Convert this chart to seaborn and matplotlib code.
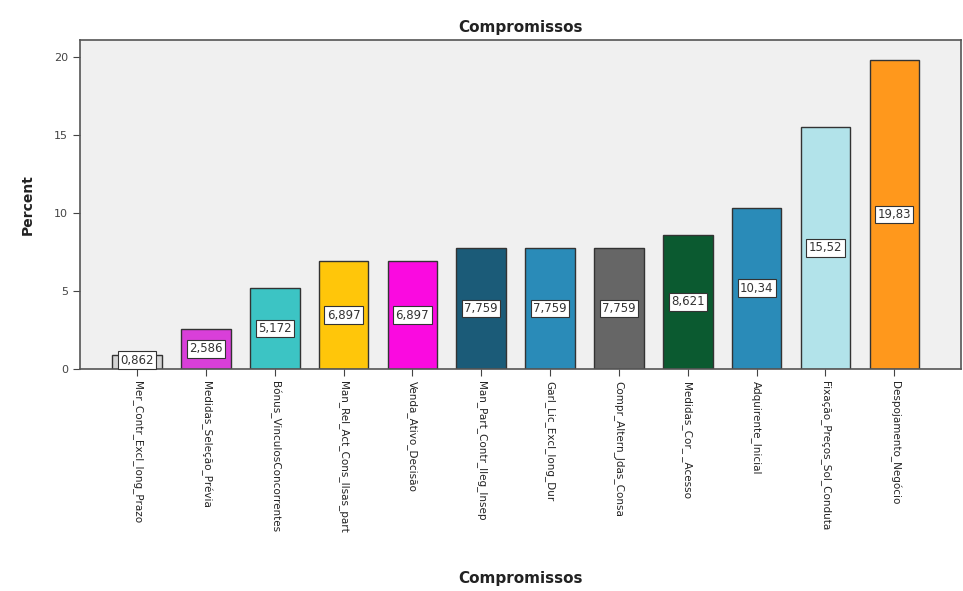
import matplotlib
matplotlib.use("Agg")
import matplotlib.pyplot as plt
import seaborn as sns
import pandas as pd

categories = [
    "Mer_Contr_Excl_long_Prazo",
    "Medidas_Seleção_Prévia",
    "Bónus_VinculosConcorrentes",
    "Man_Rel_Act_Cons_Ilsas_part",
    "Venda_Ativo_Decisão",
    "Man_Part_Contr_Ileg_Insep",
    "Garl_Lic_Excl_long_Dur",
    "Compr_Altern_Jdas_Consa",
    "Medidas_Cor_ _Acesso",
    "Adquirente_Inicial",
    "Fixação_Preços_Sol_Conduta",
    "Despojamento_Negócio",
]
percent = [0.862, 2.586, 5.172, 6.897, 6.897, 7.759, 7.759, 7.759, 8.621, 10.34, 15.52, 19.83]
value_labels = ["0,862", "2,586", "5,172", "6,897", "6,897", "7,759", "7,759", "7,759",
                "8,621", "10,34", "15,52", "19,83"]
colors = ["#d4d4d4", "#d93fd9", "#3cc4c4", "#ffc60a", "#fa0ae0", "#1b5b78",
          "#2a8bb8", "#666666", "#0b5a30", "#2a8bb8", "#b2e3ea", "#ff981c"]

df = pd.DataFrame({"Compromissos": categories, "Percent": percent})

fig = plt.figure(figsize=(9.63, 5.91), dpi=100)
ax = fig.add_axes([0.083, 0.376, 0.915, 0.556])
ax.set_facecolor("#f0f0f0")

sns.barplot(data=df, x="Compromissos", y="Percent", hue="Compromissos",
            palette=colors, legend=False, width=0.72, edgecolor="#333333",
            linewidth=1.0, ax=ax, saturation=1)

for i, (v, lab) in enumerate(zip(percent, value_labels)):
    y = max(v / 2, 0.55)
    ax.text(i, y, lab, ha="center", va="center", fontsize=8.5, color="#333333",
            bbox=dict(boxstyle="square,pad=0.2", fc="white", ec="#333333", lw=0.8))

ax.set_xlim(-0.83, 11.97)
ax.set_ylim(0, 21.1)
ax.set_yticks([0, 5, 10, 15, 20])
ax.tick_params(axis="y", labelsize=8, labelcolor="#444444", length=5, color="#444444")
ax.tick_params(axis="x", labelsize=7.5, labelcolor="#222222", length=5, color="#444444")
ax.set_xticks(range(len(categories)))
ax.set_xticklabels(categories, rotation=270, ha="center", va="top")

for s in ax.spines.values():
    s.set_color("#555555")
    s.set_linewidth(1.2)

ax.set_title("Compromissos", fontsize=11, fontweight="bold", color="#222222", pad=6)
ax.set_xlabel("Compromissos", fontsize=11, fontweight="bold", color="#222222")
ax.xaxis.set_label_coords(0.5, -0.615)
ax.set_ylabel("Percent", fontsize=10, fontweight="bold", color="#222222", labelpad=14)

fig.savefig("out.png", dpi=100)
